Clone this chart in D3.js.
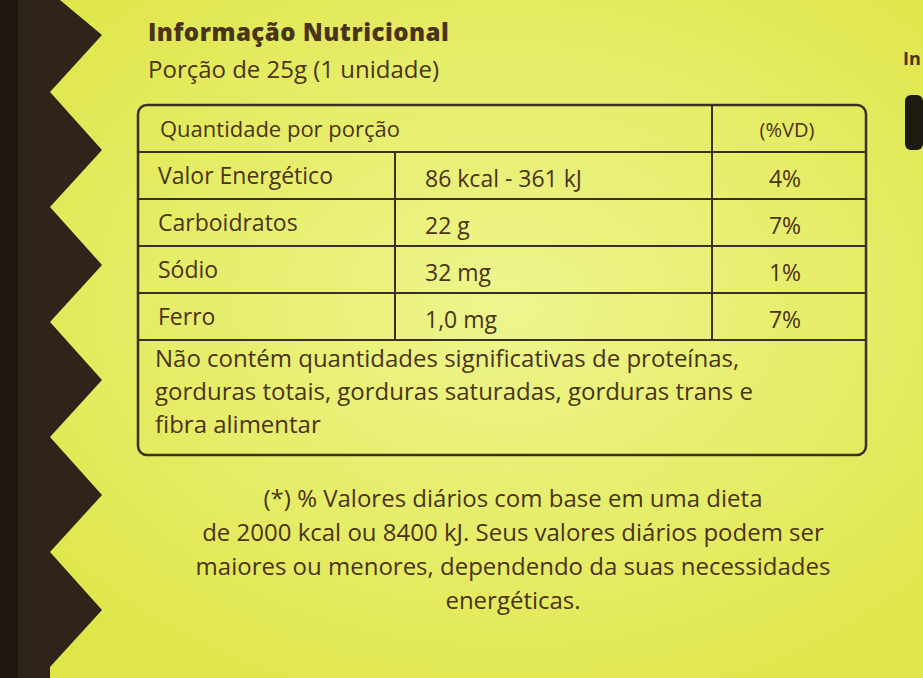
<!DOCTYPE html>
<html><head><meta charset="utf-8">
<script src="https://cdn.jsdelivr.net/npm/d3@7"></script>
<style>body{margin:0;background:#e9ef5c}svg{display:block}</style>
</head><body>
<svg id="c" width="923" height="678"></svg>
<script>
const title = "Informação Nutricional";
const portion = "Porção de 25g (1 unidade)";
const header = ["Quantidade por porção", "(%VD)"];
const nutrients = ["Valor Energético", "Carboidratos", "Sódio", "Ferro"];
const amounts = ["86 kcal - 361 kJ", "22 g", "32 mg", "1,0 mg"];
const dv = ["4%", "7%", "1%", "7%"];
const note = ["Não contém quantidades significativas de proteínas,",
  "gorduras totais, gorduras saturadas, gorduras trans e", "fibra alimentar"];
const footnote = ["(*) % Valores diários com base em uma dieta",
  "de 2000 kcal ou 8400 kJ. Seus valores diários podem ser",
  "maiores ou menores, dependendo da suas necessidades", "energéticas."];
const teeth = [35, 150, 265, 380, 495, 610];

const svg = d3.select("#c");
const ink = "#4a3318", font = "'Open Sans', 'Noto Sans', sans-serif";

const g = svg.append("defs").append("radialGradient").attr("id", "bg")
  .attr("cx", "55%").attr("cy", "45%").attr("r", "65%");
g.append("stop").attr("offset", "0").attr("stop-color", "#eef58e");
g.append("stop").attr("offset", "1").attr("stop-color", "#dfe64a");
svg.append("rect").attr("width", 923).attr("height", 678).attr("fill", "url(#bg)");

// dark zigzag edge on the left
const pts = [[0, 0], [60, 0]];
teeth.forEach(t => { pts.push([102, t], [50, t + 57]); });
pts.push([50, 678], [0, 678]);
svg.append("path").attr("d", d3.line()(pts)).attr("fill", "#2e2419");
svg.append("rect").attr("x", 0).attr("width", 18).attr("height", 678).attr("fill", "#1d1710");
svg.append("rect").attr("x", 905).attr("y", 95).attr("width", 18).attr("height", 55).attr("rx", 6).attr("fill", "#1d1a14");
svg.append("text").attr("x", 903).attr("y", 65).attr("font-family", font).attr("font-weight", 700)
  .attr("font-size", 18).attr("fill", ink).text("In");

svg.append("text").attr("x", 148).attr("y", 41).attr("font-family", font).attr("font-weight", 800)
  .attr("font-size", 24).attr("letter-spacing", 0.5).attr("fill", ink).text(title);
svg.append("text").attr("x", 148).attr("y", 78).attr("font-family", font)
  .attr("font-size", 24).attr("fill", ink).text(portion);

// table
const x = d3.scaleOrdinal().domain([0, 1, 2]).range([138, 395, 712]);
const colEnd = 866;
const rows = ["h"].concat(nutrients);
const y = d3.scaleBand().domain(rows).range([105, 340]);
const tb = svg.append("g").attr("font-family", font).attr("fill", ink);

svg.append("rect").attr("x", 138).attr("y", 105).attr("width", colEnd - 138).attr("height", 350)
  .attr("rx", 9).attr("fill", "none").attr("stroke", "#3a2f20").attr("stroke-width", 2.5);
rows.slice(1).concat(["end"]).forEach(r => {
  const yy = r === "end" ? 340 : y(r);
  svg.append("line").attr("x1", 138).attr("x2", colEnd).attr("y1", yy).attr("y2", yy)
    .attr("stroke", "#3a2f20").attr("stroke-width", 2);
});
svg.append("line").attr("x1", x(2)).attr("x2", x(2)).attr("y1", 105).attr("y2", 340)
  .attr("stroke", "#3a2f20").attr("stroke-width", 2);
svg.append("line").attr("x1", x(1)).attr("x2", x(1)).attr("y1", y(nutrients[0])).attr("y2", 340)
  .attr("stroke", "#3a2f20").attr("stroke-width", 2);

const mid = r => y(r) + y.bandwidth() / 2 + 8;
tb.append("text").attr("x", 160).attr("y", mid("h")).attr("font-size", 22).text(header[0]);
tb.append("text").attr("x", 787).attr("y", mid("h")).attr("font-size", 20).attr("text-anchor", "middle").text(header[1]);
nutrients.forEach((n, i) => {
  tb.append("text").attr("x", 158).attr("y", mid(n)).attr("font-size", 23).text(n);
  tb.append("text").attr("x", 425).attr("y", mid(n) + 3).attr("font-size", 23).text(amounts[i]);
  tb.append("text").attr("x", 785).attr("y", mid(n) + 3).attr("font-size", 23).attr("text-anchor", "middle").text(dv[i]);
});
note.forEach((t, i) => tb.append("text").attr("x", 155).attr("y", 367 + i * 33).attr("font-size", 24).text(t));

footnote.forEach((t, i) => svg.append("text").attr("x", 513).attr("y", 507 + i * 34)
  .attr("text-anchor", "middle").attr("font-family", font).attr("font-size", 24).attr("fill", ink).text(t));
</script>
</body></html>
